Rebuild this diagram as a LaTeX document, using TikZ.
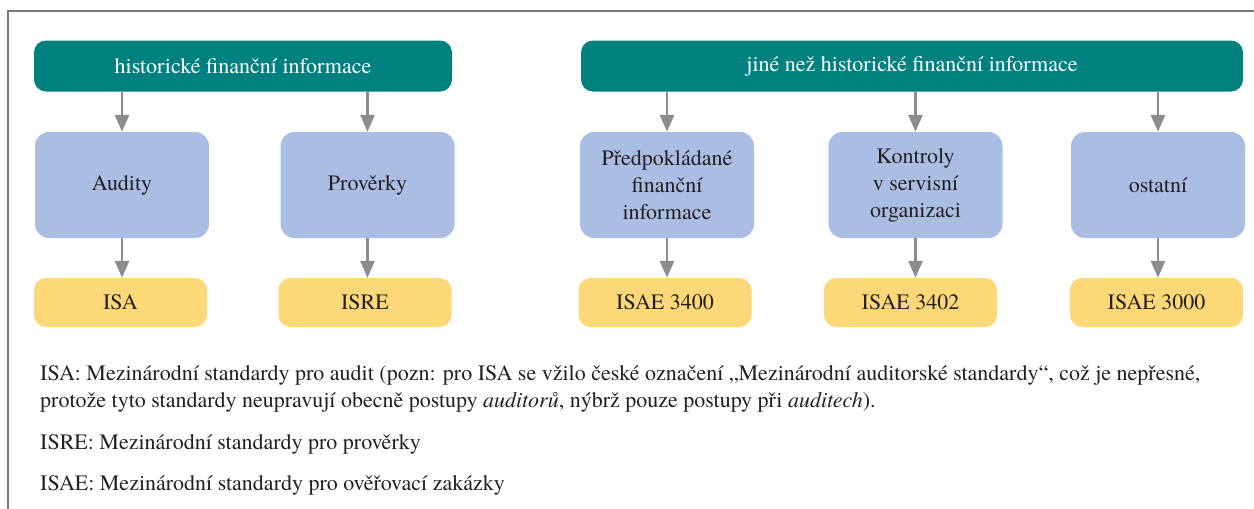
\documentclass[tikz,border=0pt]{standalone}
\usepackage{fontspec}
\setmainfont{TeX Gyre Termes}
\usetikzlibrary{arrows.meta}

\begin{document}
\begin{tikzpicture}[
    x=1pt, y=-1pt,
    every node/.style={align=center, inner sep=0pt},
    hdrbox/.style={fill=hdrcolor, text=white, rounded corners=12pt,
        minimum height=51pt, font=\fontsize{22}{27}\selectfont},
    catbox/.style={fill=catcolor, text=textcolor, rounded corners=14pt,
        minimum width=174pt, minimum height=106pt, font=\fontsize{22}{27}\selectfont},
    stdbox/.style={fill=stdcolor, text=textcolor, rounded corners=12pt,
        minimum width=173pt, minimum height=49pt, font=\fontsize{22}{27}\selectfont},
    note/.style={anchor=base west, align=left, text=textcolor,
        font=\fontsize{22}{27}\selectfont},
    arr/.style={-{Triangle[length=17pt,width=14pt]}, line width=2.8pt, color=arrcolor},
]

% Colors
\definecolor{hdrcolor}{HTML}{00807E}
\definecolor{catcolor}{HTML}{AABDE3}
\definecolor{stdcolor}{HTML}{FDD879}
\definecolor{arrcolor}{HTML}{8C8C8E}
\definecolor{framecolor}{HTML}{7A7A7A}
\definecolor{textcolor}{HTML}{231F20}

% Y coordinates
\def\hdry{66}
\def\caty{185}
\def\stdy{302.5}

% X positions
\def\xa{122}
\def\xb{367.5}
\def\xc{667}
\def\xd{915.5}
\def\xe{1158}

\useasboundingbox (0,0) rectangle (1254,509);

% Frame
\draw[framecolor, line width=1.3pt] (8,509) -- (8,11) -- (1254,11);

% Header nodes
\node[hdrbox, minimum width=418pt] (hist) at (243, \hdry) {historické finanční informace};
\node[hdrbox, minimum width=662pt] (jine) at (912, \hdry) {jiné než historické finanční informace};

% Category boxes
\node[catbox] (audity) at (\xa, \caty) {Audity};
\node[catbox] (proverky) at (\xb, \caty) {Prověrky};
\node[catbox] (predpok) at (\xc, \caty) {Předpokládané\\finanční\\informace};
\node[catbox] (kontroly) at (\xd, \caty) {Kontroly\\v servisní\\organizaci};
\node[catbox] (ostatni) at (\xe, \caty) {ostatní};

% Standard boxes
\node[stdbox] (isa) at (120.5, \stdy) {ISA};
\node[stdbox] (isre) at (365, \stdy) {ISRE};
\node[stdbox] (isae3400) at (665, \stdy) {ISAE 3400};
\node[stdbox] (isae3402) at (910.5, \stdy) {ISAE 3402};
\node[stdbox] (isae3000) at (1156.5, \stdy) {ISAE 3000};

% Arrows header -> categories
\foreach \n in {audity, proverky} {
    \draw[arr] (\n.north |- hist.south) -- (\n.north);
}
\foreach \n in {predpok, kontroly, ostatni} {
    \draw[arr] (\n.north |- jine.south) -- (\n.north);
}

% Arrows categories -> standards
\foreach \c/\s in {audity/isa, proverky/isre, predpok/isae3400, kontroly/isae3402, ostatni/isae3000} {
    \draw[arr] (\c.south) -- (\c.south |- \s.north);
}

% Notes
\node[note] (noteisa) at (40, 407) {ISA: Mezinárodní standardy pro audit (pozn: pro ISA se vžilo české označení „Mezinárodní auditorské standardy“, což je nepřesné,\\protože tyto standardy neupravují obecně postupy \textit{auditorů}, nýbrž pouze postupy při \textit{auditech}).};
\node[note] (noteisre) at (40, 449) {ISRE: Mezinárodní standardy pro prověrky};
\node[note] (noteisae) at (40, 490) {ISAE: Mezinárodní standardy pro ověřovací zakázky};

\end{tikzpicture}
\end{document}
